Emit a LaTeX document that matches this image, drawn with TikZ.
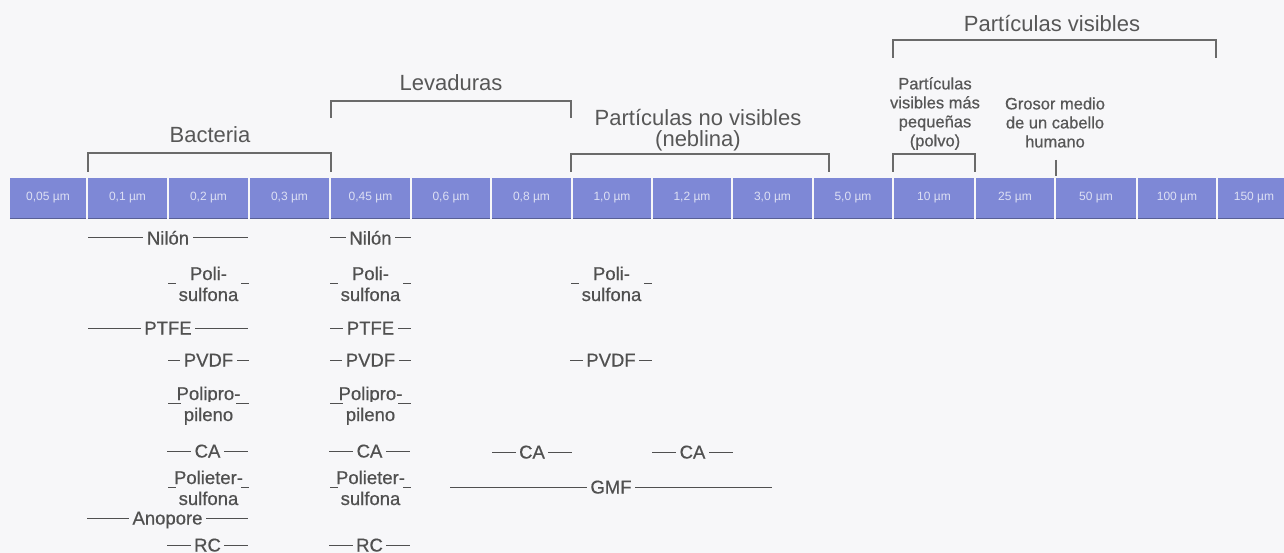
\documentclass[tikz,border=0pt]{standalone}
\usepackage{fontspec}
\setmainfont{Liberation Sans}
\newfontfamily\medfont[FakeBold=0.6]{Liberation Sans}
\definecolor{bg}{HTML}{F7F7F9}
\definecolor{barblue}{HTML}{7E88D6}
\definecolor{bartext}{HTML}{DDE0F4}
\definecolor{txt}{HTML}{575757}
\definecolor{matc}{HTML}{505050}
\definecolor{brk}{HTML}{6A6A6A}
\tikzset{
  cell/.style={fill=barblue, inner sep=0pt, minimum height=40pt,
    text=bartext, font=\fontsize{12}{14}\selectfont},
  title/.style={font=\fontsize{22}{21.5}\selectfont, text=txt, align=center, inner sep=0pt},
  note/.style={font=\medfont\fontsize{16.5}{19}\selectfont, text=txt, align=center, inner sep=0pt},
  bracket/.style={draw=brk, line width=1.3pt},
  matrule/.style={draw=matc, line width=1pt},
  mat/.style={font=\medfont\fontsize{18.5}{21}\selectfont, text=matc, fill=bg, inner xsep=3.5pt, inner ysep=2pt, anchor=base},
  matup/.style={font=\medfont\fontsize{18.5}{21}\selectfont, text=matc, inner sep=0pt, anchor=base},
  matlow/.style={font=\medfont\fontsize{18.5}{21}\selectfont, text=matc, fill=bg, inner xsep=3pt, inner ysep=6pt, anchor=base},
  baredge/.style={draw=barblue!70!black, line width=1.2pt},
}
% single-line material label: name, left, right, line y, text
\newcommand{\matline}[5]{%
  \coordinate (#1-l) at (#2,#4);
  \coordinate (#1-r) at (#3,#4);
  \draw[matrule] (#1-l) -- (#1-r);
  \node[mat] (#1) at ({(#2+#3)/2},{#4+6.5}) {#5};
}
% two-line material label: name, left, right, line y, first line, second line
\newcommand{\matpair}[6]{%
  \coordinate (#1-l) at (#2,#4);
  \coordinate (#1-r) at (#3,#4);
  \draw[matrule] (#1-l) -- (#1-r);
  \node[matup] (#1) at ({(#2+#3)/2},{#4-3}) {#5};
  \node[matlow] (#1-b) at ({(#2+#3)/2},{#4+18}) {#6};
}
\begin{document}
\begin{tikzpicture}[x=1pt,y=-1pt]
\fill[bg] (0,0) rectangle (1284,553);
\useasboundingbox (0,0) rectangle (1284,553);

% scale bar
\foreach \l/\r/\t [count=\i] in {10/86/{0,05 µm},88/167/{0,1 µm},169/248/{0,2 µm},250/329/{0,3 µm},
  331/410/{0,45 µm},412/490/{0,6 µm},492/571/{0,8 µm},573/651/{1,0 µm},653/731/{1,2 µm},
  733/812/{3,0 µm},814/892/{5,0 µm},894/974/{10 µm},976/1054/{25 µm},1056/1136/{50 µm},
  1138/1216/{100 µm},1218/1290/{150 µm}}{
  \node[cell, minimum width={\r-\l}] (c\i) at ({(\l+\r)/2},198) {\t};
  \draw[baredge] (c\i.south west) -- (c\i.south east);
}

% top brackets and titles
\node[title] (bact) at (210,135) {Bacteria};
\coordinate (bactL) at (88,172);
\coordinate (bactR) at (331,172);
\draw[bracket] (bactL) -- ++(0,-19) -| (bactR);

\node[title] (lev) at (451,83) {Levaduras};
\coordinate (levL) at (331,118);
\coordinate (levR) at (571,118);
\draw[bracket] (levL) -- ++(0,-17) -| (levR);

\node[title] (nvis) at (698,130) {Partículas no visibles\\(neblina)};
\coordinate (nvisL) at (571,172);
\coordinate (nvisR) at (829,172);
\draw[bracket] (nvisL) -- ++(0,-18) -| (nvisR);

\node[title] (vis) at (1052,24) {Partículas visibles};
\coordinate (visL) at (893,58);
\coordinate (visR) at (1216,58);
\draw[bracket] (visL) -- ++(0,-18) -| (visR);

\node[note] (polvo) at (935,113.5) {Partículas\\visibles más\\pequeñas\\(polvo)};
\coordinate (polvoL) at (893,172);
\coordinate (polvoR) at (975,172);
\draw[bracket] (polvoL) -- ++(0,-18) -| (polvoR);

\node[note] (pelo) at (1055,122.5) {Grosor medio\\de un cabello\\humano};
\coordinate (peloT) at (1056,160);
\coordinate (peloB) at (1056,176);
\draw[bracket] (peloT) -- (peloB);

% materials
\matline{nilA}{88}{248}{238}{Nilón}
\matline{nilB}{330}{411}{238}{Nilón}
\matpair{psA}{168}{249}{283}{Poli-}{sulfona}
\matpair{psB}{330}{411}{283}{Poli-}{sulfona}
\matpair{psC}{571}{652}{283}{Poli-}{sulfona}
\matline{ptA}{88}{248}{328}{PTFE}
\matline{ptB}{330}{411}{328}{PTFE}
\matline{pvA}{168}{249}{360}{PVDF}
\matline{pvB}{330}{411}{360}{PVDF}
\matline{pvC}{570}{652}{360}{PVDF}
\matpair{ppA}{168}{249}{403}{Polipro-}{pileno}
\matpair{ppB}{330}{411}{403}{Polipro-}{pileno}
\matline{caA}{167}{248}{451}{CA}
\matline{caB}{329}{410}{451}{CA}
\matline{caC}{492}{572}{452}{CA}
\matline{caD}{652}{733}{452}{CA}
\matpair{peA}{168}{249}{487}{Polieter-}{sulfona}
\matpair{peB}{330}{411}{487}{Polieter-}{sulfona}
\matline{gmf}{450}{772}{487}{GMF}
\matline{ano}{87}{248}{518}{Anopore}
\matline{rcA}{167}{248}{545}{RC}
\matline{rcB}{329}{410}{545}{RC}
\end{tikzpicture}
\end{document}
